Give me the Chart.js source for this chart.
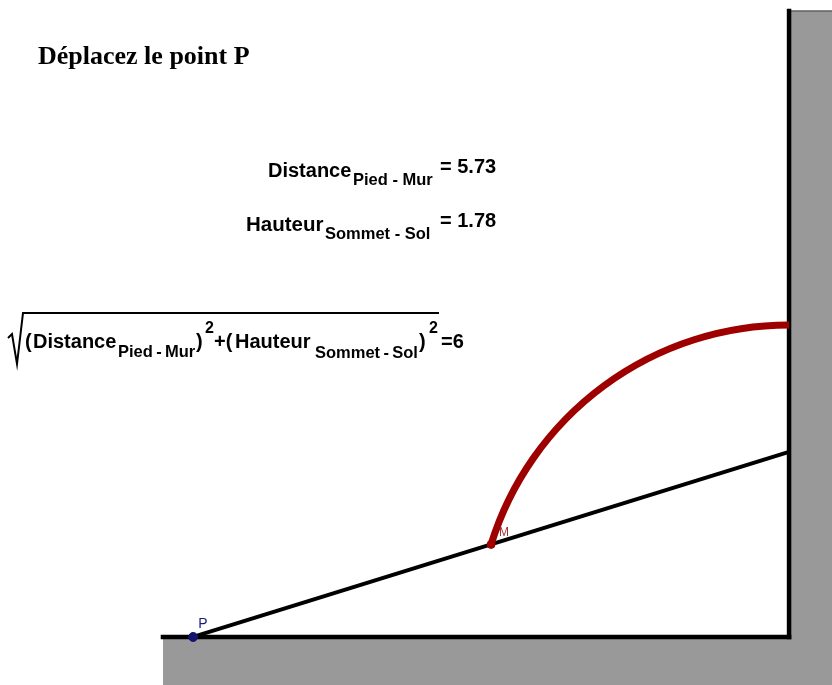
<!DOCTYPE html>
<html>
<head>
<meta charset="utf-8">
<script src="https://cdn.jsdelivr.net/npm/chart.js@4/dist/chart.umd.min.js"></script>
<style>
  html, body { margin: 0; padding: 0; background: #ffffff; }
  canvas { display: block; }
</style>
</head>
<body>
<canvas id="figure" width="832" height="685"></canvas>
<script>
// axes limits (units: 1 = one length unit of the figure, origin = foot of the wall)
const xLimits = [-7.587, 0.413];
const yLimits = [-0.462, 6.125];

// values shown on the figure
const distancePiedMur = 5.73;
const hauteurSommetSol = 1.78;
const ladderLength = 6;

// ground and wall
const groundStart = -6.02;
const wallHeight = 6.02;

// points
const pointP = [{ x: -5.73, y: 0 }];
const pointTop = [{ x: 0, y: 1.78 }];
const pointM = [{ x: -2.865, y: 0.89 }];

// texts
const titleText = "Déplacez le point P";
const distanceLabel = ["Distance", "Pied - Mur", "= 5.73"];
const hauteurLabel = ["Hauteur", "Sommet - Sol", "= 1.78"];
const formulaParts = ["(", "Distance", "Pied\u2009-\u2009Mur", ")", "2", "+(", "Hauteur", "Sommet\u2009-\u2009Sol", ")", "2", "=6"];

const SANS = '"Liberation Sans", Arial, sans-serif';

function put(ctx, str, x, y, size, opts) {
  opts = opts || {};
  ctx.font = (opts.weight || "bold") + " " + size + "px " + (opts.family || SANS);
  ctx.fillStyle = opts.color || "#000000";
  ctx.textBaseline = "alphabetic";
  ctx.textAlign = "left";
  ctx.fillText(str, x, y);
}

// locus of M: arc of radius ladderLength / 2 around the foot of the wall
const locusPlugin = {
  id: "locus",
  afterDatasetDraw(chart, args) {
    if (chart.data.datasets[args.index].label !== "Échelle") return;
    const xs = chart.scales.x, ys = chart.scales.y;
    const cx = xs.getPixelForValue(0);
    const cy = ys.getPixelForValue(0);
    const r = xs.getPixelForValue(ladderLength / 2) - cx;
    const mx = xs.getPixelForValue(pointM[0].x);
    const my = ys.getPixelForValue(pointM[0].y);
    const a0 = Math.atan2(my - cy, mx - cx);
    const ctx = chart.ctx;
    ctx.save();
    ctx.strokeStyle = "#9e0000";
    ctx.lineWidth = 7;
    ctx.lineCap = "butt";
    ctx.beginPath();
    ctx.arc(cx, cy, r, a0, -Math.PI / 2, false);
    ctx.stroke();
    ctx.restore();
  }
};

const textPlugin = {
  id: "texts",
  afterDraw(chart) {
    const ctx = chart.ctx;
    const xs = chart.scales.x, ys = chart.scales.y;
    ctx.save();

    put(ctx, titleText, 38, 64, 26, { family: '"Liberation Serif", "Times New Roman", serif' });

    put(ctx, distanceLabel[0], 268, 177, 20);
    put(ctx, distanceLabel[1], 353, 185, 16.5);
    put(ctx, distanceLabel[2], 440, 173, 20);

    put(ctx, hauteurLabel[0], 246, 231, 20.5);
    put(ctx, hauteurLabel[1], 325, 239, 16.5);
    put(ctx, hauteurLabel[2], 440, 227, 20);

    // square root
    ctx.strokeStyle = "#000000";
    ctx.lineWidth = 2;
    ctx.beginPath();
    ctx.moveTo(8, 338);
    ctx.lineTo(12, 334);
    ctx.lineTo(17, 364);
    ctx.lineTo(23, 313);
    ctx.lineTo(439, 313);
    ctx.stroke();

    put(ctx, formulaParts[0], 25, 348, 20);
    put(ctx, formulaParts[1], 33, 348, 20);
    put(ctx, formulaParts[2], 118, 357, 16.5);
    put(ctx, formulaParts[3], 196, 348, 20);
    put(ctx, formulaParts[4], 205, 333, 16);
    put(ctx, formulaParts[5], 214, 348, 20);
    put(ctx, formulaParts[6], 235, 348, 20);
    put(ctx, formulaParts[7], 315, 358, 16.5);
    put(ctx, formulaParts[8], 419, 348, 20);
    put(ctx, formulaParts[9], 429, 333, 16);
    put(ctx, formulaParts[10], 441, 348, 20);

    // point labels
    const px = xs.getPixelForValue(pointP[0].x);
    const py = ys.getPixelForValue(pointP[0].y);
    put(ctx, "P", px + 5, py - 9, 14, { weight: "normal", color: "#1a1a7a" });
    const mx = xs.getPixelForValue(pointM[0].x);
    const my = ys.getPixelForValue(pointM[0].y);
    put(ctx, "M", mx + 8, my - 8, 12, { weight: "normal", color: "#a03030" });

    ctx.restore();
  }
};

const ctx = document.getElementById("figure").getContext("2d");

new Chart(ctx, {
  type: "scatter",
  data: {
    datasets: [
      {
        label: "P",
        data: pointP,
        pointRadius: 4.5,
        pointBackgroundColor: "#14146e",
        pointBorderColor: "#14146e",
        order: 1,
      },
      {
        label: "M",
        data: pointM,
        pointRadius: 4,
        pointBackgroundColor: "#a00000",
        pointBorderColor: "#a00000",
        order: 1,
      },
      {
        label: "Échelle",
        data: [pointP[0], pointTop[0]],
        showLine: true,
        borderColor: "#000000",
        borderWidth: 4,
        pointRadius: 0,
        order: 3,
      },
      {
        label: "Sol",
        data: [{ x: groundStart, y: 0 }, { x: 0, y: 0 }],
        showLine: true,
        borderColor: "#000000",
        borderWidth: 4.5,
        borderCapStyle: "square",
        pointRadius: 0,
        order: 5,
      },
      {
        label: "Mur",
        data: [{ x: 0, y: 0 }, { x: 0, y: wallHeight }],
        showLine: true,
        borderColor: "#000000",
        borderWidth: 4.5,
        borderCapStyle: "square",
        pointRadius: 0,
        order: 5,
      },
      {
        label: "Sol plein",
        data: [{ x: groundStart, y: 0 }, { x: xLimits[1], y: 0 }],
        showLine: true,
        fill: "start",
        backgroundColor: "#999999",
        borderWidth: 0,
        pointRadius: 0,
        order: 10,
      },
      {
        label: "Mur plein",
        data: [{ x: 0, y: wallHeight }, { x: xLimits[1], y: wallHeight }],
        showLine: true,
        fill: "start",
        backgroundColor: "#999999",
        borderColor: "#333333",
        borderWidth: 1,
        pointRadius: 0,
        order: 10,
      },
    ],
  },
  options: {
    responsive: false,
    animation: false,
    layout: { padding: 0, autoPadding: false },
    plugins: {
      legend: { display: false },
      tooltip: { enabled: false },
    },
    scales: {
      x: { type: "linear", min: xLimits[0], max: xLimits[1], display: false },
      y: { type: "linear", min: yLimits[0], max: yLimits[1], display: false },
    },
  },
  plugins: [locusPlugin, textPlugin],
});
</script>
</body>
</html>
